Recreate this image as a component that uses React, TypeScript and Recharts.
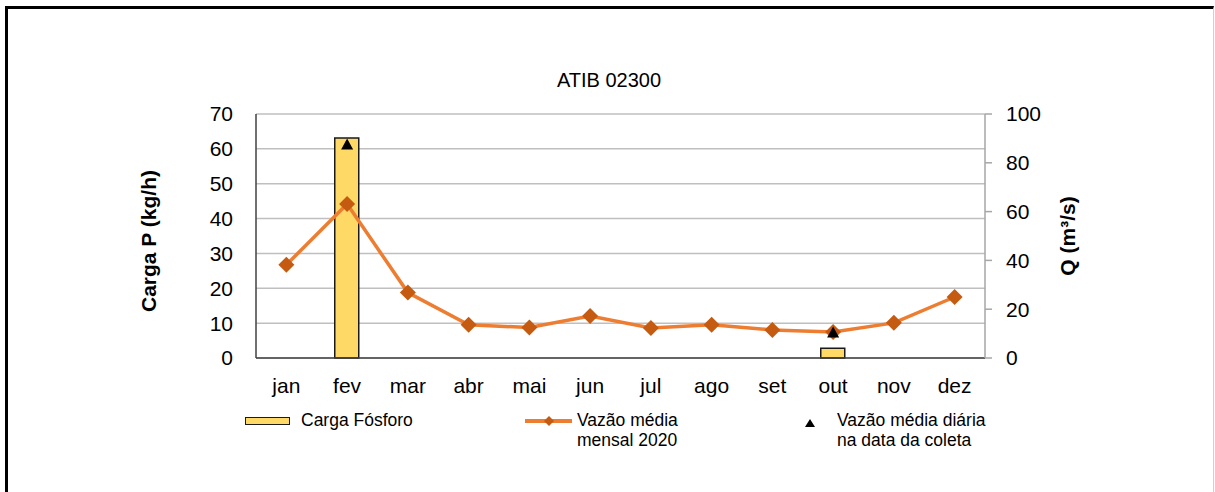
import React from 'react';
import { ComposedChart, Bar, Line, XAxis, YAxis, CartesianGrid, Label } from 'recharts';

const months = ['jan', 'fev', 'mar', 'abr', 'mai', 'jun', 'jul', 'ago', 'set', 'out', 'nov', 'dez'];
const cargaFosforo = [null, 63.1, null, null, null, null, null, null, null, 2.8, null, null];
const vazaoMensal = [38.2, 63.1, 26.8, 13.6, 12.5, 17.2, 12.3, 13.6, 11.5, 10.7, 14.4, 25.0];
const vazaoDiaria = [null, 87.5, null, null, null, null, null, null, null, 10.5, null, null];
const leftTicks = [0, 10, 20, 30, 40, 50, 60, 70];
const rightTicks = [0, 20, 40, 60, 80, 100];

const data = months.map((m, i) => ({
  month: m,
  carga: cargaFosforo[i],
  mensal: vazaoMensal[i],
  diaria: vazaoDiaria[i],
}));

const FONT = '"Liberation Sans", Arial, sans-serif';

const Diamond = (props: any) => {
  const { cx, cy, index } = props;
  if (cx == null || cy == null) return <g key={`d-${index}`} />;
  const r = 8;
  return (
    <polygon
      key={`d-${index}`}
      points={`${cx},${cy - r} ${cx + r},${cy} ${cx},${cy + r} ${cx - r},${cy}`}
      fill="#C55A11"
    />
  );
};

const Triangle = (props: any) => {
  const { cx, cy, index, value } = props;
  if (cx == null || cy == null || value == null) return <g key={`t-${index}`} />;
  return (
    <polygon
      key={`t-${index}`}
      points={`${cx},${cy - 6} ${cx + 6},${cy + 5} ${cx - 6},${cy + 5}`}
      fill="#000"
    />
  );
};

const AxisTitle = ({ viewBox, text, dx, dyc }: any) => {
  const cx = viewBox.x + dx;
  const cy = viewBox.y + viewBox.height / 2 + (dyc || 0);
  return (
    <text
      x={cx}
      y={cy}
      transform={`rotate(-90, ${cx}, ${cy})`}
      textAnchor="middle"
      dominantBaseline="central"
      fontFamily={FONT}
      fontWeight="bold"
      fontSize={21}
      fill="#000"
    >
      {text}
    </text>
  );
};

export default function App() {
  const tickStyle = { fontFamily: FONT, fontSize: 21, fill: '#000' };
  const legendText = { position: 'absolute' as const, top: 410, fontFamily: FONT, fontSize: 17.5, lineHeight: '20px' };
  return (
    <div style={{ position: 'absolute', left: 0, top: 0, width: 1215, height: 492, overflow: 'hidden', background: '#fff' }}>
      <div
        style={{
          position: 'absolute',
          left: 5,
          top: 6,
          width: 1205,
          height: 500,
          borderLeft: '3px solid #000',
          borderTop: '3px solid #000',
          borderRight: '1px solid #d0d0d0',
        }}
      />
      <div
        style={{
          position: 'absolute',
          left: 509,
          top: 69,
          width: 200,
          textAlign: 'center',
          fontFamily: FONT,
          fontSize: 20,
          color: '#000',
        }}
      >
        ATIB 02300
      </div>
      <div style={{ position: 'absolute', left: 0, top: 0 }}>
        <ComposedChart
          width={1215}
          height={492}
          data={data}
          margin={{ top: 114, right: 130, bottom: 104, left: 126 }}
        >
          <CartesianGrid yAxisId="left" vertical={false} stroke="#bfbfbf" strokeWidth={1.5} />
          <XAxis
            dataKey="month"
            axisLine={{ stroke: '#404040', strokeWidth: 1.5 }}
            tickLine={false}
            tickSize={0}
            tickMargin={20}
            tick={tickStyle}
            height={30}
            interval={0}
          />
          <YAxis
            yAxisId="left"
            domain={[0, 70]}
            ticks={leftTicks}
            width={130}
            axisLine={{ stroke: '#404040', strokeWidth: 1.5 }}
            tickLine={false}
            tickSize={0}
            tickMargin={23}
            tick={tickStyle}
          >
            <Label content={(p: any) => <AxisTitle viewBox={p.viewBox} text="Carga P (kg/h)" dx={22} dyc={5} />} />
          </YAxis>
          <YAxis
            yAxisId="right"
            orientation="right"
            domain={[0, 100]}
            ticks={rightTicks}
            width={100}
            axisLine={{ stroke: '#a6a6a6', strokeWidth: 1.5 }}
            tickLine={{ stroke: '#a6a6a6', strokeWidth: 1.5 }}
            tickSize={7}
            tickMargin={14}
            tick={{ ...tickStyle, textAnchor: 'start' }}
          >
            <Label content={(p: any) => <AxisTitle viewBox={p.viewBox} text="Q (m³/s)" dx={82} />} />
          </YAxis>
          <Bar
            yAxisId="left"
            dataKey="carga"
            fill="#FFD966"
            stroke="#1a1a1a"
            strokeWidth={1.5}
            barSize={24}
            isAnimationActive={false}
          />
          <Line
            yAxisId="right"
            dataKey="mensal"
            stroke="#ED7D31"
            strokeWidth={3.5}
            dot={<Diamond />}
            activeDot={false}
            isAnimationActive={false}
          />
          <Line
            yAxisId="right"
            dataKey="diaria"
            stroke="none"
            dot={<Triangle />}
            activeDot={false}
            isAnimationActive={false}
          />
        </ComposedChart>
      </div>
      {/* legend */}
      <div style={{ position: 'absolute', left: 245, top: 417, width: 43, height: 6, background: '#FFD966', border: '1.5px solid #1a1a1a' }} />
      <div style={{ ...legendText, left: 301 }}>Carga Fósforo</div>
      <svg style={{ position: 'absolute', left: 520, top: 410 }} width={56} height={22}>
        <line x1={5} y1={11} x2={52} y2={11} stroke="#ED7D31" strokeWidth={4} />
        <polygon points="29,6 34,11 29,16 24,11" fill="#C55A11" />
      </svg>
      <div style={{ ...legendText, left: 577 }}>
        Vazão média
        <br />
        mensal 2020
      </div>
      <svg style={{ position: 'absolute', left: 800, top: 410 }} width={20} height={22}>
        <polygon points="10,9 15,17 5,17" fill="#000" />
      </svg>
      <div style={{ ...legendText, left: 837 }}>
        Vazão média diária
        <br />
        na data da coleta
      </div>
    </div>
  );
}
